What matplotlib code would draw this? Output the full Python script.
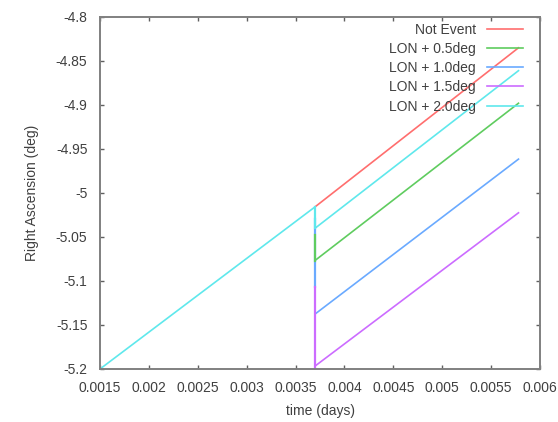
import matplotlib
matplotlib.use("Agg")
import matplotlib.pyplot as plt
from matplotlib.ticker import MultipleLocator

plt.rcParams['font.family'] = ['Liberation Sans', 'DejaVu Sans']

# Shared pre-event trajectory
pre_t = [0.0015, 0.0037]
pre_ra = [-5.2, -5.0157]

# Post-event trajectories (start at event time, end at last time)
post_t = [0.0037, 0.00578]
labels = ["Not Event", "LON + 0.5deg", "LON + 1.0deg", "LON + 1.5deg", "LON + 2.0deg"]
post_start = [-5.0157, -5.0766, -5.1375, -5.1966, -5.040]
post_end = [-4.835, -4.898, -4.9615, -5.0225, -4.861]

# Vertical jump segments visible at event time (low, high)
jump_lo = [None, -5.077, -5.107, -5.2, -5.040]
jump_hi = [None, -5.048, -5.029, -5.107, -5.0157]

colors = ["#ff6e6e", "#5fcc5f", "#6aaaff", "#cc6cff", "#5fe8ec"]

fig = plt.figure(figsize=(5.58, 4.22), dpi=100)
ax = fig.add_axes([100/558, 1-369/422, 440/558, 352/422])

for i in range(5):
    ax.plot(post_t, [post_start[i], post_end[i]], color=colors[i], lw=1.2, label=labels[i])
# verticals: draw blue, then green, magenta, cyan
for i in [2, 1, 3, 4]:
    ax.plot([post_t[0], post_t[0]], [jump_lo[i], jump_hi[i]], color=colors[i], lw=1.6)
ax.plot(pre_t, pre_ra, color=colors[4], lw=1.2)

ax.set_xlim(0.0015, 0.006)
ax.set_ylim(-5.2, -4.8)
ax.xaxis.set_major_locator(MultipleLocator(0.0005))
ax.yaxis.set_major_locator(MultipleLocator(0.05))
ax.xaxis.set_major_formatter(plt.FuncFormatter(lambda v, p: ("%.4f" % v).rstrip('0').rstrip('.')))
ax.yaxis.set_major_formatter(plt.FuncFormatter(lambda v, p: ("%.2f" % v).rstrip('0').rstrip('.')))

for s in ax.spines.values():
    s.set_color("#808080")
    s.set_linewidth(1.4)
ax.tick_params(direction='in', length=3, width=1, color="#606060",
               top=True, right=True, labelsize=10, labelcolor="#404040")
ax.tick_params(axis='x', pad=9)
ax.tick_params(axis='y', pad=9)

ax.set_xlabel("time (days)", fontsize=10, color="#404040", labelpad=6)
ax.set_ylabel("Right Ascension (deg)", fontsize=10, color="#404040", labelpad=12)

leg = ax.legend(loc='upper right', frameon=False, markerfirst=False, fontsize=10,
                handlelength=2.6, labelspacing=0.38, borderaxespad=0.2,
                handletextpad=0.8, bbox_to_anchor=(0.98, 1.008))
for t in leg.get_texts():
    t.set_color("#404040")

fig.savefig("out.png", dpi=100)
